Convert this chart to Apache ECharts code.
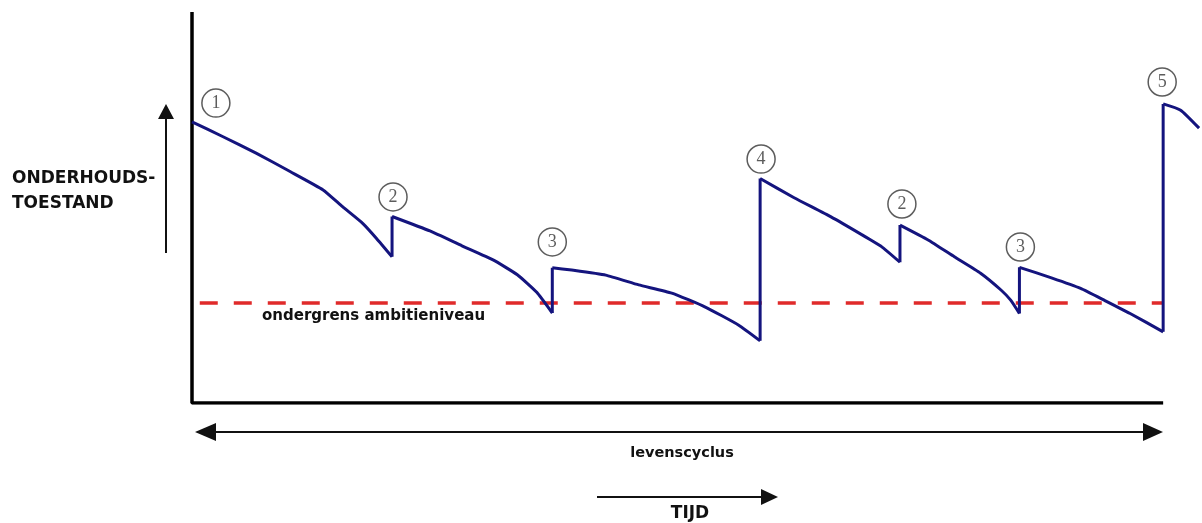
<!DOCTYPE html>
<html>
<head>
<meta charset="utf-8">
<script src="https://cdn.jsdelivr.net/npm/echarts@6/dist/echarts.min.js"></script>
<style>
html,body{margin:0;padding:0;background:#fff;}
#chart{width:1202px;height:523px;}
</style>
</head>
<body>
<div id="chart"></div>
<script>
// Maintenance condition over time (x: time units 0..100 = life cycle, y: condition 0..100)
// Each decay segment runs from a maintenance moment down to the next one.
const decay1 = [[0, 71.9], [3.2, 68.1], [6.6, 63.9], [10.1, 59.2], [13.5, 54.5], [15.5, 50.2], [17.6, 45.9], [19.0, 42.1], [20.6, 37.4]];
const decay2 = [[20.6, 47.7], [24.5, 44.0], [27.8, 40.2], [31.0, 36.6], [33.5, 32.8], [35.5, 28.3], [37.1, 23.0]];
const decay3 = [[37.1, 34.6], [39.1, 34.0], [42.6, 32.7], [46.0, 30.2], [49.4, 28.1], [52.8, 24.6], [56.3, 19.9], [58.5, 15.9]];
const decay4 = [[58.5, 57.4], [62.0, 52.5], [65.8, 47.6], [69.0, 43.0], [71.0, 40.0], [72.9, 36.0]];
const decay5 = [[72.9, 45.5], [75.8, 41.7], [78.5, 37.4], [81.2, 33.2], [83.3, 28.9], [84.3, 26.3], [85.2, 22.9]];
const decay6 = [[85.2, 34.7], [88.5, 32.0], [91.5, 29.3], [94.0, 26.2], [96.6, 22.9], [100, 18.2]];
const decay7 = [[100, 76.5], [101.8, 74.9], [103.7, 70.3]];
const decaySegments = [decay1, decay2, decay3, decay4, decay5, decay6, decay7];

const thresholdLevel = 25.6;
const thresholdRange = [0.8, 100];
const axisFrame = [[0, 100], [0, 0], [100, 0]];
const markerLabels = ['1', '2', '3', '4', '2', '3', '5'];
const markerPositions = [
  [2.46, 76.7], [20.7, 52.7], [37.1, 41.2], [58.6, 62.4],
  [73.1, 50.9], [85.3, 39.9], [99.9, 82.1]
];
const texts = {
  yTitle1: 'ONDERHOUDS-',
  yTitle2: 'TOESTAND',
  threshold: 'ondergrens ambitieniveau',
  cycle: 'levenscyclus',
  time: 'TIJD'
};

const chart = echarts.init(document.getElementById('chart'));
const font = '"DejaVu Sans", sans-serif';
const black = '#111';
const blue = '#14147e';

const decaySeries = decaySegments.map(seg => ({
  type: 'line', data: seg, symbol: 'none', smooth: 0.15,
  lineStyle: { color: blue, width: 3, join: 'round' }, z: 3
}));
// vertical jumps (maintenance interventions) connect the end of one segment to the start of the next
const jumpSeries = decaySegments.slice(0, -1).map((seg, i) => ({
  type: 'line', data: [seg[seg.length - 1], decaySegments[i + 1][0]], symbol: 'none',
  lineStyle: { color: blue, width: 3 }, z: 3
}));

chart.setOption({
  animation: false,
  backgroundColor: '#fff',
  grid: { left: 192, top: 12, width: 1017, height: 391 },
  xAxis: { type: 'value', min: 0, max: 104, show: false },
  yAxis: { type: 'value', min: 0, max: 100, show: false },
  series: [
    {
      type: 'line', data: axisFrame, symbol: 'none', silent: true,
      lineStyle: { color: '#000', width: 3.5 }, z: 1
    },
    {
      type: 'line',
      data: thresholdRange.map(x => [x, thresholdLevel]),
      symbol: 'none',
      lineStyle: { color: '#e02a2a', width: 3.5, type: [18, 16] }, z: 2
    },
    ...decaySeries,
    ...jumpSeries,
    {
      type: 'scatter',
      data: markerPositions.map((p, i) => [p[0], p[1], markerLabels[i]]),
      symbol: 'circle', symbolSize: 28,
      itemStyle: { color: '#fff', borderColor: '#333', borderWidth: 1.5 },
      label: {
        show: true, position: 'inside',
        formatter: p => p.data[2],
        fontFamily: '"Liberation Serif", serif', fontSize: 18, color: '#333'
      }, z: 4
    }
  ],
  graphic: [
    // upward arrow
    { type: 'line', shape: { x1: 166, y1: 253, x2: 166, y2: 116 }, style: { stroke: black, lineWidth: 2 } },
    { type: 'polygon', shape: { points: [[158, 119], [174, 119], [166, 104]] }, style: { fill: black } },
    { type: 'text', left: 12, top: 170, style: { text: texts.yTitle1, font: 'bold 17px ' + font, fill: black } },
    { type: 'text', left: 12, top: 195, style: { text: texts.yTitle2, font: 'bold 17px ' + font, fill: black } },
    { type: 'text', left: 262, top: 309, style: { text: texts.threshold, font: 'bold 15px ' + font, fill: black } },
    // double arrow (levenscyclus)
    { type: 'line', shape: { x1: 210, y1: 432, x2: 1148, y2: 432 }, style: { stroke: black, lineWidth: 2 } },
    { type: 'polygon', shape: { points: [[195, 432], [216, 423], [216, 441]] }, style: { fill: black } },
    { type: 'polygon', shape: { points: [[1163, 432], [1143, 423], [1143, 441]] }, style: { fill: black } },
    { type: 'text', x: 682, y: 453, style: { text: texts.cycle, font: 'bold 14.5px ' + font, fill: black, align: 'center', verticalAlign: 'middle' } },
    // time arrow
    { type: 'line', shape: { x1: 597, y1: 497, x2: 765, y2: 497 }, style: { stroke: black, lineWidth: 2 } },
    { type: 'polygon', shape: { points: [[778, 497], [761, 489], [761, 505]] }, style: { fill: black } },
    { type: 'text', x: 690, y: 514, style: { text: texts.time, font: 'bold 17px ' + font, fill: black, align: 'center', verticalAlign: 'middle' } }
  ]
});
</script>
</body>
</html>
